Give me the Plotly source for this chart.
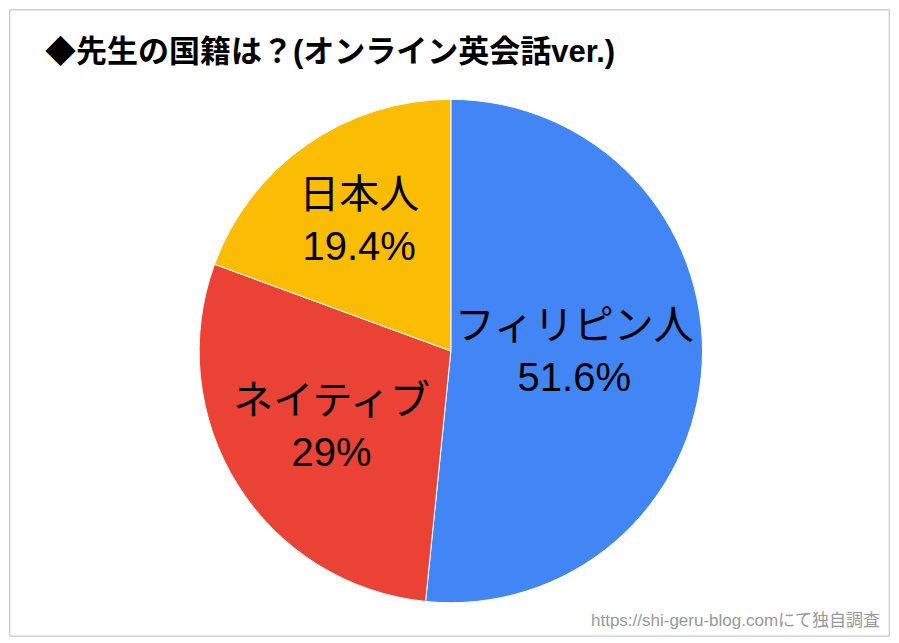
import plotly.graph_objects as go

labels = ["フィリピン人", "ネイティブ", "日本人"]
values = [51.6, 29.0, 19.4]
texts = ["フィリピン人<br>51.6%", "ネイティブ<br>29%", "日本人<br>19.4%"]
colors = ["#4285F4", "#EA4335", "#FBBC04"]

fig = go.Figure(go.Pie(
    labels=labels, values=values, text=texts, textinfo="text",
    textposition="inside", insidetextorientation="horizontal",
    sort=False, direction="clockwise", rotation=0,
    marker=dict(colors=colors, line=dict(color="white", width=1)),
    textfont=dict(size=40, color="black", family="Liberation Sans, Noto Sans CJK JP"),
    domain=dict(x=[0.216, 0.787], y=[0.056, 0.855]),
    showlegend=False, hoverinfo="none"))

fig.update_layout(
    autosize=True, height=630, margin=dict(l=0, r=0, t=0, b=0),
    paper_bgcolor="white", plot_bgcolor="white",
    font=dict(family="Liberation Sans, Noto Sans CJK JP"),
    annotations=[
        dict(text="<b>◆先生の国籍は？(オンライン英会話ver.)</b>", x=0.04, y=0.90,
             xref="paper", yref="paper", xanchor="left", yanchor="bottom",
             showarrow=False, font=dict(size=31, color="black")),
        dict(text="https://shi-geru-blog.comにて独自調査", x=0.99, y=0.01,
             xref="paper", yref="paper", xanchor="right", yanchor="bottom",
             showarrow=False, font=dict(size=17, color="#999999")),
    ],
    shapes=[dict(type="rect", xref="paper", yref="paper", x0=0.002, y0=0.003,
                 x1=0.998, y1=0.997, line=dict(color="#bbbbbb", width=1))],
)
fig.write_html("out.html", config={"responsive": True})
